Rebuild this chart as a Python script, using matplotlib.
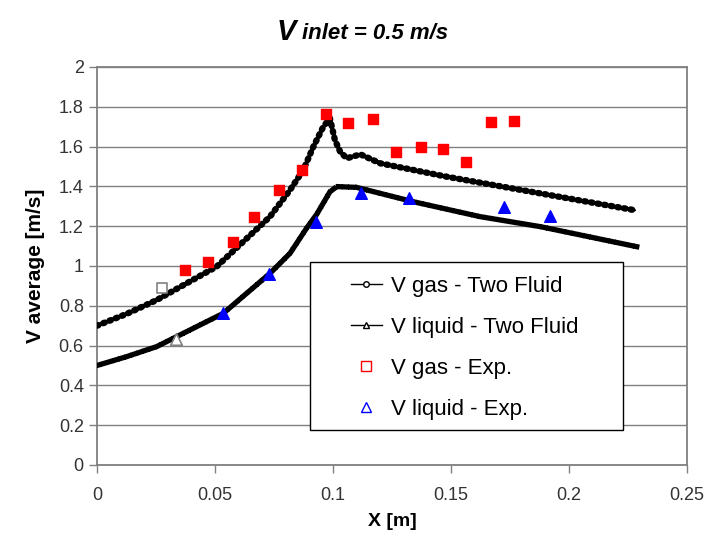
import numpy as np
import matplotlib.pyplot as plt
from matplotlib.lines import Line2D
from matplotlib.patches import Rectangle

# two-fluid model curves
x_gas_model = [0, 0.0127, 0.0253, 0.0507, 0.0733, 0.0818, 0.0874, 0.0917, 0.0959,
               0.0987, 0.1008, 0.103, 0.1058, 0.1116, 0.12, 0.148, 0.1877, 0.228]
v_gas_model = [0.70, 0.76, 0.829, 0.997, 1.248, 1.382, 1.482, 1.60, 1.70,
               1.742, 1.633, 1.575, 1.541, 1.561, 1.516, 1.449, 1.365, 1.28]
x_liq_model = [0, 0.0127, 0.0253, 0.0535, 0.0733, 0.0818, 0.0888, 0.0931, 0.0987,
               0.1016, 0.110, 0.134, 0.1623, 0.1877, 0.2287]
v_liq_model = [0.50, 0.545, 0.595, 0.762, 0.963, 1.064, 1.19, 1.26, 1.373,
               1.399, 1.395, 1.323, 1.248, 1.198, 1.097]

# experiments
x_gas_exp = [0.0372, 0.0472, 0.0575, 0.0665, 0.077, 0.087, 0.0969, 0.1065, 0.117,
             0.1267, 0.1374, 0.1466, 0.1565, 0.167, 0.1767]
v_gas_exp = [0.978, 1.020, 1.122, 1.244, 1.383, 1.481, 1.762, 1.717, 1.739,
             1.573, 1.600, 1.586, 1.524, 1.722, 1.727]
x_liq_exp = [0.0533, 0.0729, 0.0928, 0.1119, 0.1323, 0.1725, 0.192]
v_liq_exp = [0.762, 0.96, 1.223, 1.365, 1.34, 1.298, 1.251]
# first points drawn hollow in the original
x_gas_first, v_gas_first = [0.0277], [0.891]
x_liq_first, v_liq_first = [0.0335], [0.632]

plt.rcParams['font.family'] = ['Liberation Sans', 'DejaVu Sans']

fig = plt.figure(figsize=(7.25, 5.38), dpi=100)
ax = fig.add_axes([0.1338, 0.1357, 0.8138, 0.7398])

ax.set_xlim(0, 0.25)
ax.set_ylim(0, 2)
ax.set_xticks(np.arange(0, 0.2501, 0.05))
ax.set_yticks(np.arange(0, 2.01, 0.2))
ax.xaxis.set_major_formatter(plt.FormatStrFormatter('%g'))
ax.yaxis.set_major_formatter(plt.FormatStrFormatter('%g'))
ax.grid(axis='y', color='#808080', lw=1.0)
ax.set_axisbelow(True)
for s in ax.spines.values():
    s.set_color('#808080')
    s.set_linewidth(1.3)
ax.tick_params(colors='#808080', labelcolor='#333333', labelsize=13, length=6, width=1)
ax.tick_params(axis='x', pad=10)

# model lines: thin line plus chain of marks
ax.plot(x_gas_model, v_gas_model, color='black', lw=1.2, zorder=3)
ax.plot(x_gas_model, v_gas_model, color='black', lw=4.6, ls=(0, (0.25, 0.8)),
        dash_capstyle='round', zorder=3)
ax.plot(x_liq_model, v_liq_model, color='black', lw=1.3, zorder=3)
ax.plot(x_liq_model, v_liq_model, color='black', lw=3.8, ls=(0, (0.3, 0.9)),
        dash_capstyle='projecting', zorder=3)

ax.scatter(x_gas_exp, v_gas_exp, marker='s', s=55, color='#ff0000', zorder=4)
ax.scatter(x_liq_exp, v_liq_exp, marker='^', s=70, color='#0000ff', zorder=4)
ax.scatter(x_gas_first, v_gas_first, marker='s', s=55, facecolor='white',
           edgecolor='#808080', lw=1.2, zorder=4)
ax.scatter(x_liq_first, v_liq_first, marker='^', s=70, facecolor='white',
           edgecolor='#808080', lw=1.2, zorder=4)

ax.set_xlabel('X [m]', fontsize=14, fontweight='bold', labelpad=6)
ax.set_ylabel('V average [m/s]', fontsize=15, fontweight='bold', labelpad=10)

fig.text(0.382, 0.94, 'V', fontsize=21, fontweight='bold', style='italic', ha='left', va='center')
fig.text(0.416, 0.938, 'inlet = 0.5 m/s', fontsize=16, fontweight='bold', style='italic',
         ha='left', va='center')

# legend frame drawn separately so the handles sit well inside it
ax.add_patch(Rectangle((0.361, 0.088), 0.5305, 0.422, transform=ax.transAxes,
                       facecolor='white', edgecolor='black', lw=1.0, zorder=5))
handles = [
    Line2D([], [], color='black', lw=1, marker='o', ms=4, mfc='white', mec='black'),
    Line2D([], [], color='black', lw=1, marker='^', ms=4, mfc='white', mec='black'),
    Line2D([], [], ls='none', marker='s', ms=7, mfc='white', mec='#ff0000'),
    Line2D([], [], ls='none', marker='^', ms=7, mfc='white', mec='#0000ff'),
]
labels = ['V gas - Two Fluid', 'V liquid - Two Fluid', 'V gas - Exp.', 'V liquid - Exp.']
leg = ax.legend(handles, labels, loc='upper left', bbox_to_anchor=(0.43, 0.475),
                fontsize=16, frameon=False, handlelength=1.4, handletextpad=0.4,
                borderpad=0, labelspacing=0.9, borderaxespad=0)
leg.set_zorder(6)

fig.savefig('out.png', dpi=100)
